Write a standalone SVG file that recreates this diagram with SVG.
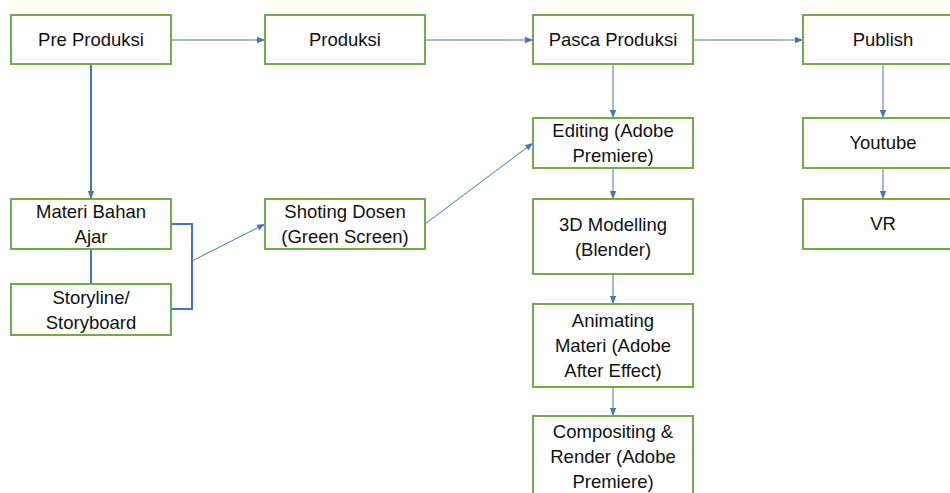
<svg xmlns="http://www.w3.org/2000/svg" width="950" height="493" viewBox="0 0 950 493">
  <style>
    .box { fill: #ffffff; stroke: #70AD47; stroke-width: 2; }
    .lbl { font-family: "Liberation Sans", Arial, sans-serif; font-size: 18.5px; fill: #111111; text-anchor: middle; }
    .thin { fill: none; stroke: #4472C4; stroke-width: 1; }
    .thick { fill: none; stroke: #4472C4; stroke-width: 2; }
  </style>
  <defs>
    <marker id="arr" markerWidth="8" markerHeight="8" refX="8" refY="4" orient="auto" markerUnits="userSpaceOnUse">
      <path d="M0,0.8 L8,4 L0,7.2 Z" fill="#4472C4"/>
    </marker>
  </defs>
  <rect width="950" height="493" fill="#ffffff"/>

  <!-- connectors -->
  <g id="connectors">
    <line class="thin" x1="171" y1="40" x2="265" y2="40" marker-end="url(#arr)"/>
    <line class="thin" x1="425" y1="40" x2="533" y2="40" marker-end="url(#arr)"/>
    <line class="thin" x1="693" y1="40" x2="803" y2="40" marker-end="url(#arr)"/>
    <line class="thick" x1="91" y1="64" x2="91" y2="199" marker-end="url(#arr)"/>
    <line class="thick" x1="91" y1="249" x2="91" y2="284"/>
    <polyline class="thick" points="171,224 192,224 192,309 171,309"/>
    <line class="thin" x1="192" y1="261" x2="265" y2="224" marker-end="url(#arr)"/>
    <line class="thin" x1="425" y1="224" x2="533" y2="143" marker-end="url(#arr)"/>
    <line class="thin" x1="613" y1="64" x2="613" y2="118" marker-end="url(#arr)"/>
    <line class="thin" x1="613" y1="168" x2="613" y2="199" marker-end="url(#arr)"/>
    <line class="thin" x1="613" y1="274" x2="613" y2="304" marker-end="url(#arr)"/>
    <line class="thin" x1="613" y1="387" x2="613" y2="416" marker-end="url(#arr)"/>
    <line class="thin" x1="883" y1="64" x2="883" y2="118" marker-end="url(#arr)"/>
    <line class="thin" x1="883" y1="168" x2="883" y2="199" marker-end="url(#arr)"/>
  </g>

  <!-- nodes -->
  <g id="pre-produksi">
    <rect class="box" x="11" y="15" width="160" height="49"/>
    <text class="lbl" x="91" y="46">Pre Produksi</text>
  </g>
  <g id="produksi">
    <rect class="box" x="265" y="15" width="160" height="49"/>
    <text class="lbl" x="345" y="46">Produksi</text>
  </g>
  <g id="pasca-produksi">
    <rect class="box" x="533" y="15" width="160" height="49"/>
    <text class="lbl" x="613" y="46">Pasca Produksi</text>
  </g>
  <g id="publish">
    <rect class="box" x="803" y="15" width="160" height="49"/>
    <text class="lbl" x="883" y="46">Publish</text>
  </g>
  <g id="materi-bahan-ajar">
    <rect class="box" x="11" y="199" width="160" height="50"/>
    <text class="lbl" x="91" y="218">Materi Bahan</text>
    <text class="lbl" x="91" y="243">Ajar</text>
  </g>
  <g id="storyline">
    <rect class="box" x="11" y="284" width="160" height="51"/>
    <text class="lbl" x="91" y="304">Storyline/</text>
    <text class="lbl" x="91" y="329">Storyboard</text>
  </g>
  <g id="shoting-dosen">
    <rect class="box" x="265" y="199" width="160" height="50"/>
    <text class="lbl" x="345" y="218">Shoting Dosen</text>
    <text class="lbl" x="345" y="243">(Green Screen)</text>
  </g>
  <g id="editing">
    <rect class="box" x="533" y="118" width="160" height="50"/>
    <text class="lbl" x="613" y="137">Editing (Adobe</text>
    <text class="lbl" x="613" y="162">Premiere)</text>
  </g>
  <g id="modelling">
    <rect class="box" x="533" y="199" width="160" height="75"/>
    <text class="lbl" x="613" y="231">3D Modelling</text>
    <text class="lbl" x="613" y="256">(Blender)</text>
  </g>
  <g id="animating">
    <rect class="box" x="533" y="304" width="160" height="83"/>
    <text class="lbl" x="613" y="327">Animating</text>
    <text class="lbl" x="613" y="352">Materi (Adobe</text>
    <text class="lbl" x="613" y="377">After Effect)</text>
  </g>
  <g id="compositing">
    <rect class="box" x="533" y="416" width="160" height="83"/>
    <text class="lbl" x="613" y="438">Compositing &amp;</text>
    <text class="lbl" x="613" y="463">Render (Adobe</text>
    <text class="lbl" x="613" y="488">Premiere)</text>
  </g>
  <g id="youtube">
    <rect class="box" x="803" y="118" width="160" height="50"/>
    <text class="lbl" x="883" y="149">Youtube</text>
  </g>
  <g id="vr">
    <rect class="box" x="803" y="199" width="160" height="50"/>
    <text class="lbl" x="883" y="230">VR</text>
  </g>
</svg>
